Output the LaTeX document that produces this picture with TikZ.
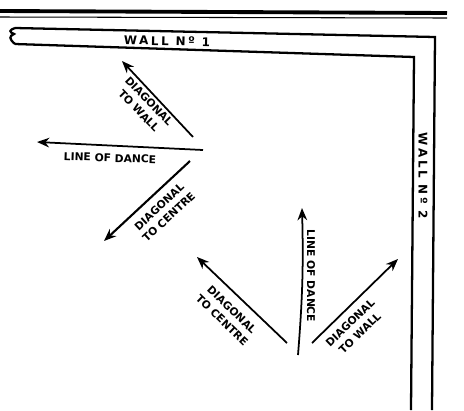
\documentclass[tikz,border=0pt]{standalone}
\usepackage{fontspec}
\newfontfamily\dancefont{DejaVu Sans}
\newfontfamily\wallfont[LetterSpace=22]{DejaVu Sans}
\usetikzlibrary{arrows.meta, positioning}

\begin{document}
\begin{tikzpicture}[
    x=0.02cm, y=-0.02cm,
    >=Stealth,
    % Wall styles
    wall/.style={line width=1.3pt, line join=miter},
    rule/.style={line width=2.2pt},
    walllabel/.style={font=\wallfont\bfseries\fontsize{6.8}{8}\selectfont, inner sep=1pt},
    % Dance direction styles
    dancearrow/.style={-{Stealth[length=7pt, width=5.5pt]}, line width=1pt},
    dancelabel/.style={font=\dancefont\bfseries\fontsize{6.1}{8}\selectfont, align=center, inner sep=1pt}
]
    \useasboundingbox (0,0) rectangle (464,410);

    % === PAGE RULES ===
    \draw[rule] (0,11) -- (447,13);
    \draw[line width=0.6pt] (0,17) -- (447,18);

    % === WALLS ===
    \draw[wall] (15,28) -- (435,37) -- (432,410);
    \draw[wall] (15,44) -- (414,57) -- (411,410);
    % break mark at the left end of Wall 1
    \draw[wall] (15,28) .. controls (9,30) and (9,32) .. (14,34)
        .. controls (9,36) and (9,39) .. (15,44);
    \node[walllabel, rotate=-1.2] (wall1) at (167,41) {WALL Nº 1};
    \node[walllabel, rotate=-90] (wall2) at (423,176) {WALL Nº 2};

    % === UPPER GROUP ===
    \coordinate (uStart) at (193,137);
    \coordinate (uDiagWall) at (122,61);
    \coordinate (uLine) at (203,150);
    \coordinate (uLineEnd) at (37,142);
    \coordinate (uCentre) at (190,161);
    \coordinate (uDiagCentre) at (104,241);

    \draw[dancearrow] (uStart) -- (uDiagWall);
    \draw[dancearrow] (uLine) -- (uLineEnd);
    \draw[dancearrow, line width=1.2pt] (uCentre) -- (uDiagCentre);

    \node[dancelabel, rotate=-46] (uwall) at (144,106) {DIAGONAL\\TO WALL};
    \node[dancelabel, rotate=-2] (uline) at (110,158) {LINE OF DANCE};
    \node[dancelabel, rotate=43] (ucentre) at (164,212) {DIAGONAL\\TO CENTRE};

    % === LOWER GROUP ===
    \coordinate (lCentre) at (287,343);
    \coordinate (lDiagCentre) at (197,257);
    \coordinate (lLine) at (298,355);
    \coordinate (lLineEnd) at (302,208);
    \coordinate (lWall) at (312,343);
    \coordinate (lDiagWall) at (398,259);

    \draw[dancearrow] (lCentre) -- (lDiagCentre);
    \draw[dancearrow] (lLine) to[bend right=3] (lLineEnd);
    \draw[dancearrow] (lWall) -- (lDiagWall);

    \node[dancelabel, rotate=-44] (lcentre) at (227,315) {DIAGONAL\\TO CENTRE};
    \node[dancelabel, rotate=-90] (lline) at (311,276) {LINE OF DANCE};
    \node[dancelabel, rotate=44] (lwall) at (355,328) {DIAGONAL\\TO WALL};

\end{tikzpicture}
\end{document}
